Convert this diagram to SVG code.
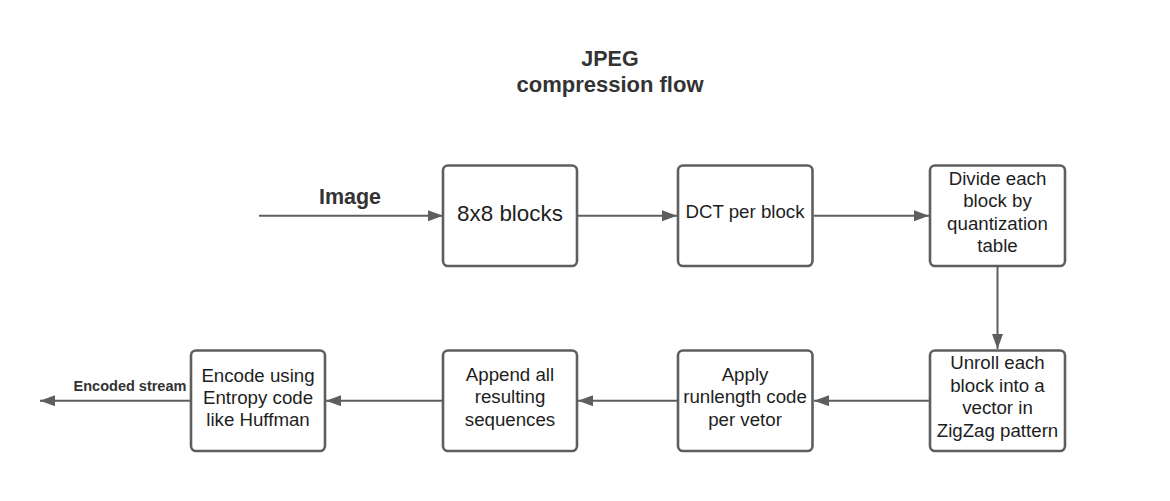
<svg xmlns="http://www.w3.org/2000/svg" width="1170" height="501" viewBox="0 0 1170 501">
<style>
.box{fill:#ffffff;stroke:#5e5e5e;stroke-width:2.6}
.t{font-family:"Liberation Sans",Arial,sans-serif;font-size:18.7px;fill:#1e1e1e;text-anchor:middle}
.b{font-family:"Liberation Sans",Arial,sans-serif;font-weight:bold;fill:#333333;text-anchor:middle}
.e{fill:none;stroke:#5e5e5e;stroke-width:2}
</style>
<defs>
<marker id="ah" markerUnits="userSpaceOnUse" markerWidth="16" markerHeight="12" refX="15" refY="5.5" orient="auto">
<path d="M0,0 L15,5.5 L0,11 Z" fill="#5e5e5e"/>
</marker>
</defs>
<rect width="1170" height="501" fill="#ffffff"/>
<g id="title">
<text class="b" x="610" y="66" font-size="21.5">JPEG</text>
<text class="b" x="610" y="92" font-size="22">compression flow</text>
</g>
<g id="connectors">
<line class="e" x1="259" y1="215.7" x2="443" y2="215.7" marker-end="url(#ah)"/>
<line class="e" x1="578" y1="215.7" x2="677" y2="215.7" marker-end="url(#ah)"/>
<line class="e" x1="814" y1="215.7" x2="929" y2="215.7" marker-end="url(#ah)"/>
<line class="e" x1="997.5" y1="267" x2="997.5" y2="349" marker-end="url(#ah)"/>
<line class="e" x1="929" y1="400.7" x2="814" y2="400.7" marker-end="url(#ah)"/>
<line class="e" x1="678" y1="400.7" x2="578" y2="400.7" marker-end="url(#ah)"/>
<line class="e" x1="442" y1="400.7" x2="326" y2="400.7" marker-end="url(#ah)"/>
<line class="e" x1="190" y1="400.7" x2="40" y2="400.7" marker-end="url(#ah)"/>
<text class="b" x="350" y="204" font-size="21.5">Image</text>
<text class="b" x="130" y="390.5" font-size="14.5">Encoded stream</text>
</g>
<g id="n1">
<rect class="box" x="443" y="165.5" width="134" height="100.5" rx="5"/>
<text class="t" x="510" y="220.7" font-size="22.4" style="font-size:22.4px">8x8 blocks</text>
</g>
<g id="n2">
<rect class="box" x="678" y="165.5" width="134.5" height="100.5" rx="5"/>
<text class="t" x="745" y="218.3">DCT per block</text>
</g>
<g id="n3">
<rect class="box" x="930" y="165.5" width="135" height="100.5" rx="5"/>
<text class="t" x="997.5" y="185">Divide each</text>
<text class="t" x="997.5" y="207.3">block by</text>
<text class="t" x="997.5" y="229.6">quantization</text>
<text class="t" x="997.5" y="252">table</text>
</g>
<g id="n4">
<rect class="box" x="930" y="350.5" width="135" height="100.5" rx="5"/>
<text class="t" x="997.5" y="369">Unroll each</text>
<text class="t" x="997.5" y="391.5">block into a</text>
<text class="t" x="997.5" y="414">vector in</text>
<text class="t" x="997.5" y="436.5">ZigZag pattern</text>
</g>
<g id="n5">
<rect class="box" x="678" y="350.5" width="134.5" height="100.5" rx="5"/>
<text class="t" x="745" y="381">Apply</text>
<text class="t" x="745" y="403.3">runlength code</text>
<text class="t" x="745" y="425.5">per vetor</text>
</g>
<g id="n6">
<rect class="box" x="443" y="350.5" width="134" height="100.5" rx="5"/>
<text class="t" x="510" y="381">Append all</text>
<text class="t" x="510" y="403.3">resulting</text>
<text class="t" x="510" y="425.5">sequences</text>
</g>
<g id="n7">
<rect class="box" x="191" y="350.5" width="134" height="100.5" rx="5"/>
<text class="t" x="258" y="381.5">Encode using</text>
<text class="t" x="258" y="403.5">Entropy code</text>
<text class="t" x="258" y="425.5">like Huffman</text>
</g>
</svg>
